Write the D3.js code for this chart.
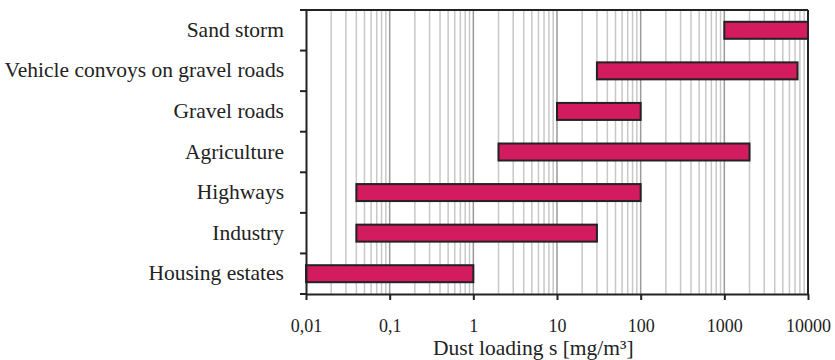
<!DOCTYPE html>
<html><head><meta charset="utf-8">
<script src="https://cdn.jsdelivr.net/npm/d3@7"></script>
<style>body{margin:0;background:#fff}svg{display:block}</style>
</head><body>
<script>
const categories = ["Sand storm","Vehicle convoys on gravel roads","Gravel roads","Agriculture","Highways","Industry","Housing estates"];
const lowValues  = [1000, 30, 10, 2, 0.04, 0.04, 0.01];
const highValues = [10000, 7500, 100, 2000, 100, 30, 1];
const tickValues = [0.01, 0.1, 1, 10, 100, 1000, 10000];
const tickLabels = ["0,01","0,1","1","10","100","1000","10000"];
const xTitle = "Dust loading s [mg/m³]";

const W = 835, H = 360;
const m = {left:306, right:27, top:10, bottom:66};
const FONT = "Liberation Serif, Times New Roman, serif";
const svg = d3.select("body").append("svg").attr("width",W).attr("height",H);
const x = d3.scaleLog().domain([0.01,10000]).range([m.left, W-m.right]);
const y = d3.scaleBand().domain(categories).range([m.top, H-m.bottom]);

// grid lines
const minors = [];
for (let e=-2;e<4;e++) for (let k=2;k<=9;k++) minors.push(k*Math.pow(10,e));
svg.append("g").selectAll("line").data(minors).join("line")
  .attr("x1",d=>x(d)).attr("x2",d=>x(d)).attr("y1",m.top).attr("y2",H-m.bottom)
  .attr("stroke","#c8c8c8").attr("stroke-width",1.5);
svg.append("g").selectAll("line").data(tickValues.slice(1,-1)).join("line")
  .attr("x1",d=>x(d)).attr("x2",d=>x(d)).attr("y1",m.top).attr("y2",H-m.bottom)
  .attr("stroke","#9a9a9a").attr("stroke-width",1.5);

// bars
const bh = 17;
svg.append("g").selectAll("rect").data(categories).join("rect")
  .attr("x",(d,i)=>x(lowValues[i]))
  .attr("width",(d,i)=>x(highValues[i])-x(lowValues[i]))
  .attr("y",d=>y(d)+y.bandwidth()/2-bh/2)
  .attr("height",bh)
  .attr("fill","#d31b5f").attr("stroke","#222").attr("stroke-width",2);

// frame
svg.append("line").attr("x1",m.left).attr("x2",W-m.right).attr("y1",m.top).attr("y2",m.top).attr("stroke","#222").attr("stroke-width",2);
svg.append("line").attr("x1",W-m.right).attr("x2",W-m.right).attr("y1",m.top).attr("y2",H-m.bottom).attr("stroke","#222").attr("stroke-width",2);

// x axis
const xa = svg.append("g").attr("transform",`translate(0,${H-m.bottom})`)
  .call(d3.axisBottom(x).tickValues(tickValues).tickFormat((d,i)=>tickLabels[i]).tickSize(6).tickSizeOuter(0));
xa.select(".domain").attr("stroke","#222").attr("stroke-width",2);
xa.selectAll(".tick line").attr("stroke","#222").attr("stroke-width",2);
xa.selectAll("text").attr("y",37.5).attr("dy",0).attr("font-family",FONT).attr("font-size",18).attr("fill","#222");

// y axis
const ya = svg.append("g").attr("transform",`translate(${m.left},0)`)
  .call(d3.axisLeft(y).tickSize(0).tickFormat(""));
ya.select(".domain").attr("stroke","#222").attr("stroke-width",2);
const bounds = categories.map(c=>y(c)).concat([y(categories[categories.length-1])+y.bandwidth()]);
ya.selectAll(".bt").data(bounds).join("line").attr("class","bt")
  .attr("x1",-6).attr("x2",0).attr("y1",d=>d).attr("y2",d=>d)
  .attr("stroke","#222").attr("stroke-width",2);
svg.append("g").selectAll("text").data(categories).join("text")
  .attr("x",284).attr("y",d=>y(d)+y.bandwidth()/2+6.5)
  .attr("text-anchor","end").attr("font-family",FONT).attr("font-size",21.5).attr("fill","#222")
  .text(d=>d);

svg.append("text").attr("x",(430.7+636)/2).attr("y",355).attr("text-anchor","middle")
  .attr("font-family",FONT).attr("font-size",21.5).attr("fill","#222")
  .text(xTitle);
</script>
</body></html>
